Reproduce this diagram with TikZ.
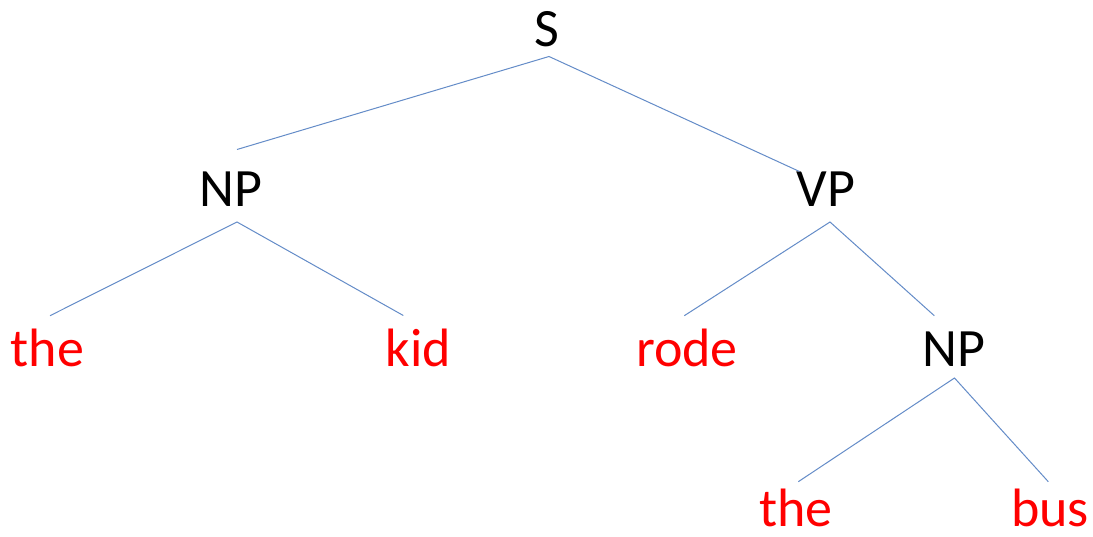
\documentclass[tikz,border=0pt]{standalone}
\usepackage{fontspec}
\setmainfont{Carlito}
\definecolor{edgeblue}{RGB}{100,140,200}
\definecolor{wordred}{RGB}{255,0,0}
\begin{document}
\begin{tikzpicture}[x=1pt,y=-1pt,
  cat/.style={anchor=base,inner sep=0pt,font=\fontsize{54}{60}\selectfont,text=black},
  word/.style={anchor=base,inner sep=0pt,font=\fontsize{54}{60}\selectfont,text=wordred},
  edge/.style={draw=edgeblue,line width=1pt}]
\useasboundingbox[fill=white] (0,0) rectangle (1093,537);
% nodes
\node[cat]  (S)   at (546.5,46.7) {S};
\node[cat]  (NPa) at (231,206.7) {NP};
\node[cat]  (VP)  at (826,206.7) {VP};
\node[word] (the1) at (47.5,366.5) {the};
\node[word] (kid) at (418.5,366.5) {kid};
\node[word] (rode) at (687,366.5) {rode};
\node[cat]  (NPb) at (954,366.5) {NP};
\node[word] (the2) at (796,526) {the};
\node[word] (bus) at (1050,526) {bus};
% connector end points
\coordinate (S-b)    at (549,56.5);
\coordinate (NPa-t)  at (237,149.5);
\coordinate (VP-t)   at (799.5,171.5);
\coordinate (NPa-b)  at (237,222);
\coordinate (the1-t) at (50,315.7);
\coordinate (kid-t)  at (403.3,315.5);
\coordinate (VP-b)   at (830,222);
\coordinate (rode-t) at (684.3,315.7);
\coordinate (NPb-t)  at (934.3,315.7);
\coordinate (NPb-b)  at (954.5,378);
\coordinate (the2-t) at (798.3,481.7);
\coordinate (bus-t)  at (1048.3,481.7);
% connectors
\draw[edge] (NPa-t) -- (S-b) -- (VP-t);
\draw[edge] (the1-t) -- (NPa-b) -- (kid-t);
\draw[edge] (rode-t) -- (VP-b) -- (NPb-t);
\draw[edge] (the2-t) -- (NPb-b) -- (bus-t);
\end{tikzpicture}
\end{document}
